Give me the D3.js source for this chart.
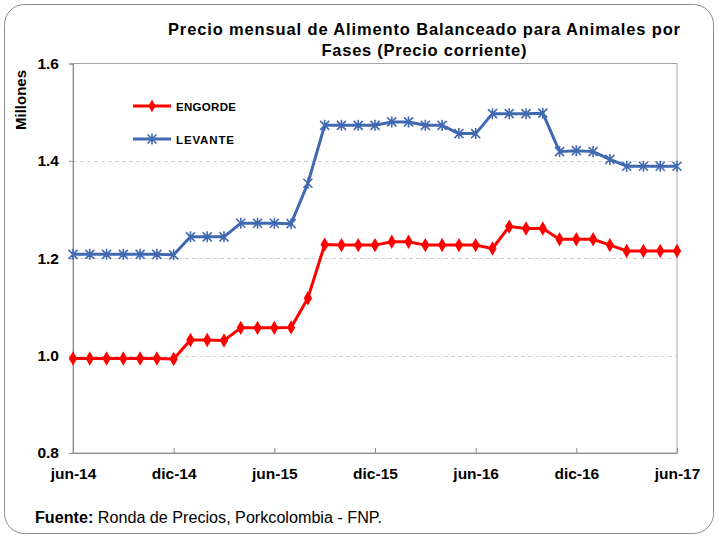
<!DOCTYPE html>
<html>
<head>
<meta charset="utf-8">
<script src="https://cdn.jsdelivr.net/npm/d3@7"></script>
<style>
  body { margin: 0; background: #fff; }
  text { font-family: "Liberation Sans", Arial, sans-serif; }
</style>
</head>
<body>
<div id="chart"></div>
<script>
// monthly categories, jun-14 .. jun-17
var months = ["jun-14","jul-14","ago-14","sep-14","oct-14","nov-14","dic-14",
  "ene-15","feb-15","mar-15","abr-15","may-15","jun-15","jul-15","ago-15","sep-15","oct-15","nov-15","dic-15",
  "ene-16","feb-16","mar-16","abr-16","may-16","jun-16","jul-16","ago-16","sep-16","oct-16","nov-16","dic-16",
  "ene-17","feb-17","mar-17","abr-17","may-17","jun-17"];

var tickLabels = ["jun-14", "dic-14", "jun-15", "dic-15", "jun-16", "dic-16", "jun-17"];
var yTicks = [0.8, 1.0, 1.2, 1.4, 1.6];

// millones de pesos
var engorde = [0.994, 0.994, 0.994, 0.994, 0.994, 0.994, 0.993,
  1.032, 1.032, 1.031, 1.057, 1.057, 1.057, 1.058, 1.118, 1.228, 1.227, 1.227, 1.227,
  1.234, 1.234, 1.227, 1.227, 1.227, 1.227, 1.220, 1.265, 1.261, 1.261, 1.239, 1.239,
  1.239, 1.227, 1.215, 1.215, 1.215, 1.215];

var levante = [1.208, 1.208, 1.208, 1.208, 1.208, 1.208, 1.207,
  1.244, 1.244, 1.244, 1.272, 1.272, 1.272, 1.271, 1.354, 1.473, 1.473, 1.473, 1.473,
  1.480, 1.480, 1.473, 1.473, 1.456, 1.456, 1.497, 1.497, 1.497, 1.498, 1.419, 1.421,
  1.419, 1.403, 1.389, 1.389, 1.389, 1.389];

var W = 719, H = 538;
var svg = d3.select("#chart").append("svg")
    .attr("width", W).attr("height", H);

// outer rounded frame
svg.append("rect")
    .attr("x", 4.5).attr("y", 4.5)
    .attr("width", W - 10).attr("height", H - 9)
    .attr("rx", 20).attr("ry", 20)
    .attr("fill", "#fff").attr("stroke", "#8c8c8c").attr("stroke-width", 1);

var x = d3.scalePoint().domain(months).range([73, 677]);
var y = d3.scaleLinear().domain([0.8, 1.6]).range([453, 63.5]);

// plot box
svg.append("rect")
    .attr("x", 73).attr("y", 63.5)
    .attr("width", 604).attr("height", 389.5)
    .attr("fill", "none").attr("stroke", "#a6a6a6").attr("stroke-width", 1);

// gridlines
svg.selectAll(".grid").data(yTicks.filter(function (d) { return d > 0.8 && d < 1.6; }))
  .enter().append("line")
    .attr("class", "grid")
    .attr("x1", 73).attr("x2", 677)
    .attr("y1", function (d) { return Math.round(y(d)) + 0.5; })
    .attr("y2", function (d) { return Math.round(y(d)) + 0.5; })
    .attr("stroke", "#d0d0d0").attr("stroke-dasharray", "4,3");

// axes
var yAxis = d3.axisLeft(y).tickValues(yTicks).tickSize(4)
    .tickFormat(d3.format(".1f"));
var gy = svg.append("g").attr("transform", "translate(73,0)").call(yAxis);
gy.select(".domain").attr("stroke", "#8c8c8c");
gy.selectAll(".tick line").attr("stroke", "#8c8c8c");
gy.selectAll(".tick text")
    .attr("x", -14)
    .style("font-size", "15.5px").style("font-weight", "bold").attr("fill", "#000");

var xAxis = d3.axisBottom(x).tickValues(tickLabels).tickSize(-5).tickSizeOuter(0);
var gx = svg.append("g").attr("transform", "translate(0,453)").call(xAxis);
gx.select(".domain").attr("stroke", "#8c8c8c");
gx.selectAll(".tick line").attr("stroke", "#8c8c8c");
gx.selectAll(".tick text")
    .attr("y", 15)
    .style("font-size", "15.5px").style("font-weight", "bold").attr("fill", "#000");

// titles
svg.append("text")
    .attr("x", 424).attr("y", 35)
    .attr("text-anchor", "middle")
    .attr("textLength", 512).attr("lengthAdjust", "spacing")
    .style("font-size", "16.5px").style("font-weight", "bold")
    .text("Precio mensual de Alimento Balanceado para Animales por");
svg.append("text")
    .attr("x", 424).attr("y", 56)
    .attr("text-anchor", "middle")
    .attr("textLength", 205).attr("lengthAdjust", "spacing")
    .style("font-size", "16.5px").style("font-weight", "bold")
    .text("Fases (Precio corriente)");

svg.append("text")
    .attr("transform", "translate(26,100) rotate(-90)")
    .attr("text-anchor", "middle")
    .style("font-size", "15px").style("font-weight", "bold")
    .text("Millones");

var src = svg.append("text")
    .attr("x", 35).attr("y", 523)
    .attr("textLength", 347).attr("lengthAdjust", "spacingAndGlyphs")
    .style("font-size", "16px");
src.append("tspan").style("font-weight", "bold").text("Fuente: ");
src.append("tspan").text("Ronda de Precios, Porkcolombia - FNP.");

// series
var RED = "#ff0000", BLUE = "#4169b1";
var line = d3.line()
    .x(function (d, i) { return x(months[i]); })
    .y(function (d) { return y(d); });

var diamond = d3.symbol().type(d3.symbolDiamond).size(60);
var STAR = "M-4.5,-4.5L4.5,4.5M-4.5,4.5L4.5,-4.5M0,-5.5L0,5.5";

svg.append("path").datum(engorde)
    .attr("d", line).attr("fill", "none")
    .attr("stroke", RED).attr("stroke-width", 3).attr("stroke-linejoin", "round");
svg.selectAll(".mEng").data(engorde).enter().append("path")
    .attr("class", "mEng")
    .attr("d", diamond)
    .attr("transform", function (d, i) { return "translate(" + x(months[i]) + "," + y(d) + ")"; })
    .attr("fill", RED);

svg.append("path").datum(levante)
    .attr("d", line).attr("fill", "none")
    .attr("stroke", BLUE).attr("stroke-width", 3).attr("stroke-linejoin", "round");
svg.selectAll(".mLev").data(levante).enter().append("path")
    .attr("class", "mLev")
    .attr("d", STAR)
    .attr("transform", function (d, i) { return "translate(" + x(months[i]) + "," + y(d) + ")"; })
    .attr("fill", "none").attr("stroke", BLUE).attr("stroke-width", 1.6);

// legend
var legend = [
  { name: "ENGORDE", color: RED, yy: 106, star: false },
  { name: "LEVANTE", color: BLUE, yy: 139, star: true }
];
var lg = svg.selectAll(".lg").data(legend).enter().append("g")
    .attr("class", "lg")
    .attr("transform", function (d) { return "translate(133," + d.yy + ")"; });
lg.append("line").attr("x1", 0).attr("x2", 38)
    .attr("stroke", function (d) { return d.color; }).attr("stroke-width", 3);
lg.append("path")
    .attr("transform", "translate(19,0)")
    .attr("d", function (d) { return d.star ? STAR : d3.symbol().type(d3.symbolDiamond).size(45)(); })
    .attr("fill", function (d) { return d.star ? "none" : d.color; })
    .attr("stroke", function (d) { return d.star ? d.color : "none"; })
    .attr("stroke-width", 1.6);
lg.append("text")
    .attr("x", 43).attr("y", 4.5)
    .attr("textLength", function (d) { return d.star ? 58 : 60; })
    .attr("lengthAdjust", "spacing")
    .style("font-size", "11.5px").style("font-weight", "bold")
    .text(function (d) { return d.name; });
</script>
</body>
</html>
